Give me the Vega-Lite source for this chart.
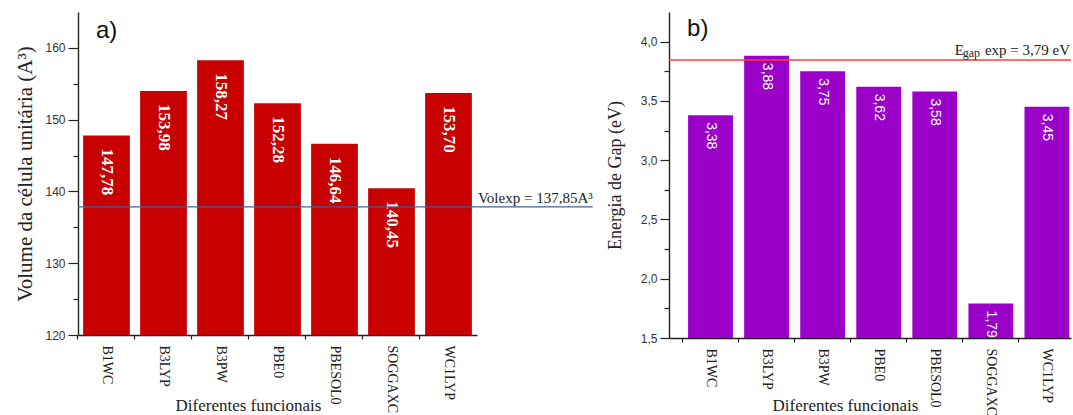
{
  "$schema": "https://vega.github.io/schema/vega-lite/v6.json",
  "padding": {"left": 14, "top": 12, "right": 2, "bottom": 0},
  "background": "white",
  "datasets": {
    "funcionais": [
      {"funcional": "B1WC", "volume": 147.78, "gap": 3.38},
      {"funcional": "B3LYP", "volume": 153.98, "gap": 3.88},
      {"funcional": "B3PW", "volume": 158.27, "gap": 3.75},
      {"funcional": "PBE0", "volume": 152.28, "gap": 3.62},
      {"funcional": "PBESOL0", "volume": 146.64, "gap": 3.58},
      {"funcional": "SOGGAXC", "volume": 140.45, "gap": 1.79},
      {"funcional": "WC1LYP", "volume": 153.70, "gap": 3.45}
    ],
    "referencias": [
      {"volexp": 137.85, "egap_linha": 3.845}
    ]
  },
  "spacing": 192,
  "bounds": "flush",
  "hconcat": [
    {
      "width": 399,
      "height": 323,
      "layer": [
        {
          "data": {"name": "funcionais"},
          "layer": [
            {
              "mark": {"type": "bar", "color": "#C80000"},
              "encoding": {
                "x": {
                  "field": "funcional", "type": "nominal", "sort": null,
                  "scale": {"paddingInner": 0.18, "paddingOuter": 0.09},
                  "axis": {
                    "orient": "bottom",
                    "title": "Diferentes funcionais", "titleX": 170, "titlePadding": -15,
                    "labelAngle": 90, "labelAlign": "left", "labelBaseline": "middle",
                    "labelPadding": 10, "ticks": false
                  }
                },
                "y": {
                  "field": "volume", "type": "quantitative",
                  "scale": {"domain": [120, 165], "nice": false, "zero": false},
                  "axis": {
                    "orient": "left",
                    "title": "Volume da célula unitária (A³)",
                    "titleFontSize": 21,
                    "values": [120, 130, 140, 150, 160],
                    "tickSize": 10,
                    "labelPadding": 3,
                    "titlePadding": 9
                  }
                },
                "y2": {"datum": 120}
              }
            },
            {
              "mark": {"type": "text", "angle": 90, "align": "left", "baseline": "middle", "dx": 13,
                       "font": "Liberation Serif", "fontSize": 17, "fontWeight": "bold", "color": "white"},
              "encoding": {
                "x": {
                  "field": "funcional", "type": "nominal", "sort": null,
                  "axis": {"orient": "bottom", "bandPosition": -0.11, "labels": false, "domain": false,
                           "title": null, "ticks": true, "tickSize": 4}
                },
                "y": {
                  "field": "volume", "type": "quantitative",
                  "axis": {"orient": "left", "values": [125, 135, 145, 155], "labels": false,
                           "domain": false, "title": null, "tickSize": 5}
                },
                "text": {"field": "volume", "type": "quantitative", "format": ".2f"}
              }
            }
          ],
          "resolve": {"axis": {"x": "independent", "y": "independent"}}
        },
        {
          "data": {"name": "referencias"},
          "mark": {"type": "rule", "color": "#41609E", "strokeWidth": 1.2, "clip": false},
          "encoding": {
            "x": {"datum": 0, "type": "quantitative", "scale": {"domain": [0, 1]}, "axis": null},
            "x2": {"datum": 1.29},
            "y": {"field": "volexp", "type": "quantitative", "axis": null}
          }
        },
        {
          "data": {"name": "referencias"},
          "mark": {"type": "text", "align": "right", "baseline": "alphabetic", "dy": -4,
                   "font": "Liberation Serif", "fontSize": 15, "color": "#222", "clip": false},
          "encoding": {
            "x": {"datum": 1.29, "type": "quantitative", "scale": {"domain": [0, 1]}, "axis": null},
            "y": {"field": "volexp", "type": "quantitative", "axis": null},
            "text": {"value": "Volexp = 137,85A³"}
          }
        },
        {
          "data": {"name": "referencias"},
          "mark": {"type": "text", "align": "left", "baseline": "middle",
                   "font": "Liberation Sans", "fontSize": 24, "color": "#111"},
          "encoding": {
            "x": {"datum": 0.045, "type": "quantitative", "scale": {"domain": [0, 1]}, "axis": null},
            "y": {"datum": 162.3, "type": "quantitative", "axis": null},
            "text": {"value": "a)"}
          }
        }
      ],
      "resolve": {"scale": {"x": "independent"}}
    },
    {
      "width": 402,
      "height": 326,
      "layer": [
        {
          "data": {"name": "funcionais"},
          "layer": [
            {
              "mark": {"type": "bar", "color": "#9B00C8"},
              "encoding": {
                "x": {
                  "field": "funcional", "type": "nominal", "sort": null,
                  "scale": {"paddingInner": 0.2, "paddingOuter": 0.185, "align": 0.92},
                  "axis": {
                    "orient": "bottom",
                    "title": "Diferentes funcionais", "titleX": 176, "titlePadding": -18,
                    "labelAngle": 90, "labelAlign": "left", "labelBaseline": "middle",
                    "labelPadding": 10, "ticks": false
                  }
                },
                "y": {
                  "field": "gap", "type": "quantitative",
                  "scale": {"domain": [1.5, 4.25], "nice": false, "zero": false},
                  "axis": {
                    "orient": "left",
                    "title": "Energia de Gap (eV)",
                    "values": [1.5, 2.0, 2.5, 3.0, 3.5, 4.0],
                    "format": ".1f",
                    "tickSize": 9,
                    "labelPadding": 3,
                    "titlePadding": 16
                  }
                },
                "y2": {"datum": 1.5}
              }
            },
            {
              "mark": {"type": "text", "angle": 90, "align": "left", "baseline": "middle", "dx": 7,
                       "font": "Liberation Sans", "fontSize": 14, "color": "white"},
              "encoding": {
                "x": {
                  "field": "funcional", "type": "nominal", "sort": null,
                  "axis": {"orient": "bottom", "bandPosition": -0.125, "labels": false, "domain": false,
                           "title": null, "ticks": true, "tickSize": 4}
                },
                "y": {
                  "field": "gap", "type": "quantitative",
                  "axis": {"orient": "left", "values": [1.75, 2.25, 2.75, 3.25, 3.75], "labels": false,
                           "domain": false, "title": null, "tickSize": 5}
                },
                "text": {"field": "gap", "type": "quantitative", "format": ".2f"}
              }
            }
          ],
          "resolve": {"axis": {"x": "independent", "y": "independent"}}
        },
        {
          "data": {"name": "referencias"},
          "mark": {"type": "rule", "color": "#FF3B3B", "strokeWidth": 1.6},
          "encoding": {
            "y": {"field": "egap_linha", "type": "quantitative", "axis": null}
          }
        },
        {
          "data": {"name": "referencias"},
          "mark": {"type": "text", "align": "right", "baseline": "alphabetic", "dy": -5, "dx": -1,
                   "font": "Liberation Serif", "fontSize": 15, "color": "#222"},
          "encoding": {
            "x": {"datum": 1, "type": "quantitative", "scale": {"domain": [0, 1]}, "axis": null},
            "y": {"field": "egap_linha", "type": "quantitative", "axis": null},
            "text": {"value": "exp = 3,79 eV"}
          }
        },
        {
          "data": {"name": "referencias"},
          "mark": {"type": "text", "align": "right", "baseline": "alphabetic", "dy": -3, "dx": -91,
                   "font": "Liberation Serif", "fontSize": 12, "color": "#222"},
          "encoding": {
            "x": {"datum": 1, "type": "quantitative", "scale": {"domain": [0, 1]}, "axis": null},
            "y": {"field": "egap_linha", "type": "quantitative", "axis": null},
            "text": {"value": "gap"}
          }
        },
        {
          "data": {"name": "referencias"},
          "mark": {"type": "text", "align": "right", "baseline": "alphabetic", "dy": -5, "dx": -107,
                   "font": "Liberation Serif", "fontSize": 15, "color": "#222"},
          "encoding": {
            "x": {"datum": 1, "type": "quantitative", "scale": {"domain": [0, 1]}, "axis": null},
            "y": {"field": "egap_linha", "type": "quantitative", "axis": null},
            "text": {"value": "E"}
          }
        },
        {
          "data": {"name": "referencias"},
          "mark": {"type": "text", "align": "left", "baseline": "middle",
                   "font": "Liberation Sans", "fontSize": 24, "color": "#111"},
          "encoding": {
            "x": {"datum": 0.045, "type": "quantitative", "scale": {"domain": [0, 1]}, "axis": null},
            "y": {"datum": 4.107, "type": "quantitative", "axis": null},
            "text": {"value": "b)"}
          }
        }
      ],
      "resolve": {"scale": {"x": "independent"}}
    }
  ],
  "config": {
    "view": {"stroke": null},
    "locale": {"number": {"decimal": ",", "thousands": ".", "grouping": [3], "currency": ["", ""]}},
    "axis": {
      "grid": false,
      "domainColor": "#222",
      "domainWidth": 1.4,
      "tickColor": "#222",
      "tickWidth": 1.2,
      "labelFont": "Liberation Sans",
      "labelFontSize": 12,
      "labelColor": "#333",
      "titleFont": "Liberation Serif",
      "titleFontSize": 18,
      "titleFontWeight": "normal",
      "titleColor": "#222"
    },
    "axisX": {
      "labelFont": "Liberation Serif",
      "labelFontSize": 14,
      "labelColor": "#222",
      "titleFontSize": 17
    }
  }
}
